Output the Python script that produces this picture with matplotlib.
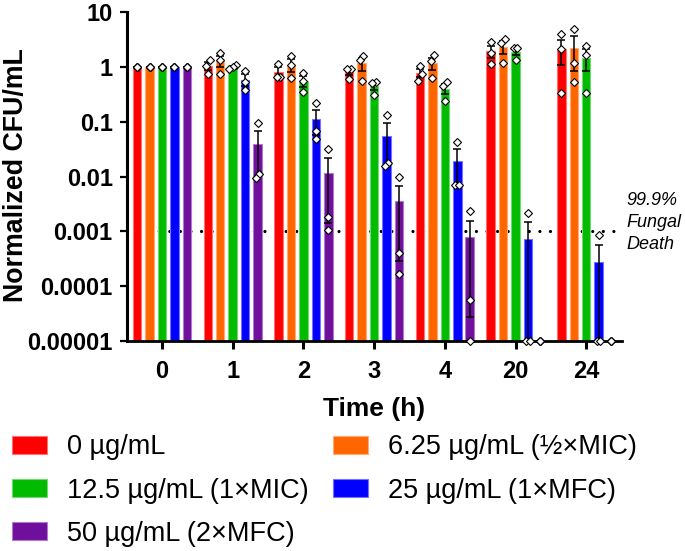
import numpy as np
import matplotlib
matplotlib.use('Agg')
import matplotlib.pyplot as plt
from matplotlib.patches import Patch
from matplotlib.ticker import FixedLocator, FixedFormatter, LogLocator, NullFormatter
from matplotlib.colors import to_rgb

plt.rcParams['font.family'] = ['Liberation Sans', 'DejaVu Sans']

# ---------------- data ----------------
time_labels = ['0', '1', '2', '3', '4', '20', '24']
series_labels = ['0 µg/mL', '6.25 µg/mL (½×MIC)', '12.5 µg/mL (1×MIC)',
                 '25 µg/mL (1×MFC)', '50 µg/mL (2×MFC)']
series_colors = ['#FF0000', '#FF6600', '#00BB00', '#0000FF', '#700E9E']

# replicate normalized CFU/mL values (3 per time point); 0 = no growth
rep_0ug = [[1, 1, 1], [1.36, 1.05, 0.73], [1.15, 0.66, 0.64], [0.93, 0.90, 0.60],
           [1.04, 0.74, 0.56], [2.86, 1.76, 1.15], [3.9, 2.08, 0.335]]
rep_6ug = [[1, 1, 1], [1.8, 1.32, 0.74], [1.59, 1.07, 0.63], [1.59, 1.32, 0.556],
           [1.64, 1.27, 0.63], [3.16, 2.67, 1.18], [5.0, 1.18, 0.54]]
rep_12ug = [[1, 1, 1], [1.08, 1.0, 0.9], [0.78, 0.556, 0.35], [0.52, 0.51, 0.31],
            [0.53, 0.44, 0.236], [2.17, 2.17, 1.36], [2.42, 1.64, 0.327]]
rep_25ug = [[1, 1, 1], [0.85, 0.53, 0.375], [0.22, 0.067, 0.048], [0.133, 0.0176, 0.0153],
            [0.0432, 0.0071, 0.0071], [0.00218, 0, 0], [0.00084, 0, 0]]
rep_50ug = [[1, 1, 1], [0.095, 0.0112, 0.0093], [0.0315, 0.0018, 0.00107],
            [0.01, 0.0004, 0.00017], [0.00234, 0.000056, 0], [0, 0, 0], [0, 0, 0]]
series_reps = [rep_0ug, rep_6ug, rep_12ug, rep_25ug, rep_50ug]

ytick_values = [10, 1, 0.1, 0.01, 0.001, 0.0001, 0.00001]
ytick_labels = ['10', '1', '0.1', '0.01', '0.001', '0.0001', '0.00001']
threshold = 0.001
threshold_text = '99.9%\nFungal\nDeath'
y_floor = 0.00001
y_top = 10


def swarm_offsets(vals, floor, step=0.05, gap=0.13):
    v = np.log10(np.maximum(np.asarray(vals, float), floor))
    off = np.zeros(len(v))
    if np.allclose(v, v[0]):
        return off
    order = np.argsort(v)
    clusters = [[order[0]]]
    for i in order[1:]:
        if v[i] - v[clusters[-1][-1]] < gap:
            clusters[-1].append(i)
        else:
            clusters.append([i])
    for c in clusters:
        k = len(c)
        for j, idx in enumerate(c):
            off[idx] = (j - (k - 1) / 2) * step
    return off


W, H = 685, 551
fig = plt.figure(figsize=(W / 100, H / 100), dpi=100)
ax = fig.add_axes([126.6 / W, 1 - 341 / H, (621.6 - 126.6) / W, (341 - 12) / H])
ax.set_yscale('log')

x = np.arange(len(time_labels))
n_series = len(series_reps)
spacing = 0.176
bar_w = 0.12

for s, (reps, col) in enumerate(zip(series_reps, series_colors)):
    arr = np.array(reps, dtype=float)
    mean = arr.mean(axis=1)
    sem = arr.std(axis=1, ddof=1) / np.sqrt(arr.shape[1])
    xs = x + (s - (n_series - 1) / 2) * spacing
    light = tuple(0.55 * np.array(to_rgb(col)) + 0.45)
    ax.bar(xs, np.maximum(mean, y_floor) - y_floor, bottom=y_floor, width=bar_w,
           color=col, edgecolor=light, linewidth=0.8, zorder=2)
    m = mean > 0
    lower = np.where(mean - sem > 0, sem, mean - y_floor * 0.5)
    ax.errorbar(xs[m], mean[m], yerr=[lower[m], sem[m]], fmt='none', ecolor='black',
                elinewidth=1.1, capsize=3, capthick=1.1, zorder=3)
    for i in range(len(x)):
        off = swarm_offsets(arr[i], y_floor)
        ax.plot(xs[i] + off, np.maximum(arr[i], y_floor), linestyle='none', marker='D',
                ms=3.8, mfc='white', mec='black', mew=0.8, clip_on=False, zorder=4)

ax.axhline(threshold, color='black', lw=2.3, linestyle=(0, (0.01, 3.3)),
           dash_capstyle='round', zorder=1)
ax.annotate(threshold_text, xy=(1.0, threshold), xycoords=('axes fraction', 'data'),
            xytext=(5, 9), textcoords='offset pixels', ha='left', va='center',
            fontsize=13, fontstyle='italic', linespacing=1.36, annotation_clip=False)

ax.set_xlim(-0.5, len(time_labels) - 0.5)
ax.set_ylim(y_floor, y_top)
ax.set_xticks(x)
ax.set_xticklabels(time_labels)
ax.yaxis.set_major_locator(FixedLocator(ytick_values))
ax.yaxis.set_major_formatter(FixedFormatter(ytick_labels))
ax.yaxis.set_minor_locator(LogLocator(base=10, subs=np.arange(2, 10)))
ax.yaxis.set_minor_formatter(NullFormatter())

for sp in ['top', 'right']:
    ax.spines[sp].set_visible(False)
ax.spines['left'].set_linewidth(2.2)
ax.spines['bottom'].set_linewidth(2.0)

ax.tick_params(axis='y', which='major', direction='out', length=5, width=1.6, pad=5,
               labelsize=17)
ax.tick_params(axis='y', which='minor', direction='out', length=3, width=1.2)
ax.tick_params(axis='x', which='major', direction='out', length=6, width=2.2, pad=8,
               labelsize=17)
for lab in ax.get_xticklabels() + ax.get_yticklabels():
    lab.set_fontweight('bold')

ax.set_xlabel('Time (h)', fontsize=19, fontweight='bold', labelpad=10)
ax.set_ylabel('Normalized CFU/mL', fontsize=19.3, fontweight='bold', va='center')
ax.yaxis.set_label_coords((16 - 126.6) / 495, 0.503)

order = [0, 2, 4, 1, 3]
handles = [Patch(facecolor=series_colors[i],
                 edgecolor=tuple(0.55 * np.array(to_rgb(series_colors[i])) + 0.45),
                 linewidth=0.8) for i in order]
labels = [series_labels[i] for i in order]
fig.legend(handles, labels, ncol=2, loc='upper left',
           bbox_to_anchor=(11.7 / W, 1 - 434.5 / H), frameon=False, fontsize=19.5,
           handlelength=1.3, handleheight=0.65, handletextpad=0.74, columnspacing=0.91,
           labelspacing=0.63, borderpad=0, borderaxespad=0)

fig.savefig('out.png', dpi=100)
